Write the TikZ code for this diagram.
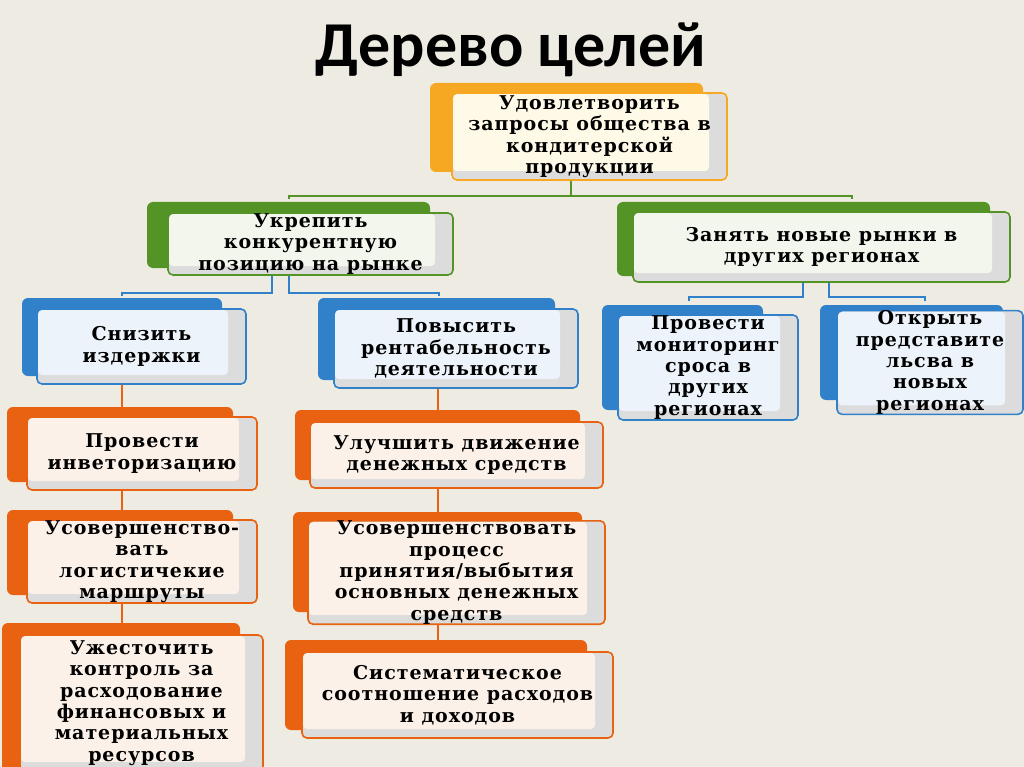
\documentclass[tikz,border=0pt]{standalone}
\usepackage{fontspec}
\setmainfont{DejaVu Serif}
\newfontfamily\boxfont[LetterSpace=5]{DejaVu Serif}
\newfontfamily\titlefont{Carlito}
\definecolor{bgc}{RGB}{238,236,226}
\definecolor{yel}{RGB}{247,168,35}
\definecolor{yelin}{RGB}{255,249,232}
\definecolor{grn}{RGB}{84,148,38}
\definecolor{grnin}{RGB}{242,246,237}
\definecolor{blu}{RGB}{48,128,202}
\definecolor{bluin}{RGB}{236,243,251}
\definecolor{org}{RGB}{232,98,18}
\definecolor{orgin}{RGB}{252,241,232}
\definecolor{shd}{RGB}{220,220,220}
\pgfdeclarelayer{pagebg}
\pgfdeclarelayer{links}
\pgfsetlayers{pagebg,links,main}
\newcommand\gcard[8]{%
  \fill[#2,rounded corners=6pt] (#3) rectangle (#4);
  \node[card=#2, minimum width=#6pt, minimum height=#7pt] (#1) at (#5) {#8};}
\begin{document}
\begin{tikzpicture}[x=1pt,y=-1pt,
  card/.style={draw=#1, line width=1.6pt, rounded corners=5pt, fill=shd,
    inner sep=0pt, outer sep=0pt, align=center, text=black,
    font=\boxfont\bfseries\fontsize{19}{21.4}\selectfont,
    path picture={\fill[#1in, rounded corners=4pt]
      ([shift={(1pt,-1pt)}]path picture bounding box.north west) rectangle
      ([shift={(-18pt,9pt)}]path picture bounding box.south east);}},
  link/.style={draw=#1, line width=1.8pt},
  titlestyle/.style={font=\titlefont\bfseries\fontsize{64}{70}\selectfont, text=black, inner sep=0pt}]
\useasboundingbox (0,0) rectangle (1024,767);
\begin{pgfonlayer}{pagebg}
\fill[bgc] (0,0) rectangle (1024,767);
\end{pgfonlayer}

\node[titlestyle, anchor=base] (title) at (511,67) {Дерево целей};

\gcard{top}{yel}{430,83}{703,172}{589.5,136.5}{275}{87}{Удовлетворить\\запросы общества в\\кондитерской\\продукции}
\gcard{ukr}{grn}{147,202}{430,268}{310.5,244}{285}{62}{Укрепить\\конкурентную\\позицию на рынке}
\gcard{zan}{grn}{617,202}{990,276}{821.5,247}{377}{70}{Занять новые рынки в\\других регионах}
\gcard{sniz}{blu}{22,298}{222,376}{141.5,346.5}{209}{75}{Снизить\\издержки}
\gcard{pov}{blu}{318,298}{555,380}{456,348.5}{244}{79}{Повысить\\рентабельность\\деятельности}
\gcard{mon}{blu}{602,305}{763,410}{708,367.5}{180}{105}{Провести\\мониторинг\\сроса в\\других\\регионах}
\gcard{otk}{blu}{820,305}{1003,400}{930,362.5}{186}{95}{Открыть\\представите\\льсва в\\новых\\регионах}
\gcard{inv}{org}{7,407}{233,482}{142,453.5}{230}{73}{Провести\\инветоризацию}
\gcard{log}{org}{7,510}{233,595}{142,561.5}{230}{83}{Усовершенство-\\вать\\логистичекие\\маршруты}
\gcard{uzh}{org}{2,623}{240,780}{141.5,703}{243}{136}{Ужесточить\\контроль за\\расходование\\финансовых и\\материальных\\ресурсов}
\gcard{dvi}{org}{295,410}{580,480}{456.5,455}{293}{66}{Улучшить движение\\денежных средств}
\gcard{proc}{org}{293,512}{582,612}{456.5,572.5}{297}{95}{Усовершенствовать\\процесс\\принятия/выбытия\\основных денежных\\средств}
\gcard{sys}{org}{285,640}{587,730}{457.5,695}{311}{86}{Систематическое\\соотношение расходов\\и доходов}

\coordinate (gj) at (571,196);
\coordinate (gL) at (289,199);
\coordinate (gR) at (852,199);
\coordinate (b1) at (272,293);
\coordinate (b2) at (289,293);
\coordinate (bL) at (122,296);
\coordinate (bR) at (439,296);
\coordinate (z1) at (803,297);
\coordinate (z2) at (829,297);
\coordinate (zL) at (689,301);
\coordinate (zR) at (925,301);
\coordinate (oL) at (122,0);
\coordinate (oR) at (438,0);

\begin{pgfonlayer}{links}
\draw[link=grn] (top.south -| gj) -- (gj);
\draw[link=grn] (gL) -- (gL |- gj) -- (gR |- gj) -- (gR);
\draw[link=blu] (ukr.south -| b1) -- (b1) -- (bL |- b1) -- (bL);
\draw[link=blu] (ukr.south -| b2) -- (b2) -- (bR |- b2) -- (bR);
\draw[link=blu] (zan.south -| z1) -- (z1) -- (zL |- z1) -- (zL);
\draw[link=blu] (zan.south -| z2) -- (z2) -- (zR |- z2) -- (zR);
\draw[link=org] (sniz.south -| oL) -- (inv.north -| oL);
\draw[link=org] (inv.south -| oL) -- (log.north -| oL);
\draw[link=org] (log.south -| oL) -- (uzh.north -| oL);
\draw[link=org] (pov.south -| oR) -- (dvi.north -| oR);
\draw[link=org] (dvi.south -| oR) -- (proc.north -| oR);
\draw[link=org] (proc.south -| oR) -- (sys.north -| oR);
\end{pgfonlayer}
\end{tikzpicture}
\end{document}
